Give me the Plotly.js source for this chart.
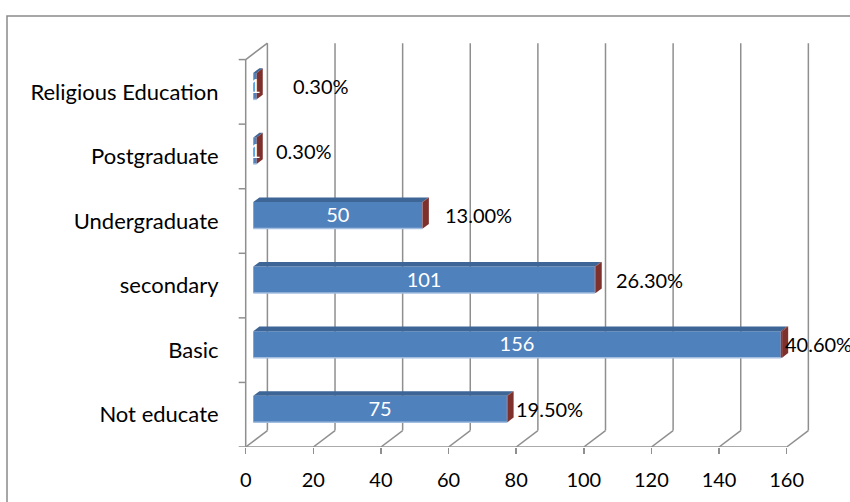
<!DOCTYPE html>
<html>
<head>
<meta charset="utf-8">
<script src="https://cdn.plot.ly/plotly-3.0.1.min.js"></script>
<style>
  html, body { margin: 0; padding: 0; background: #fff; }
  #chart { width: 850px; height: 502px; }
</style>
</head>
<body>
<div id="chart"></div>
<script>
// ---- data ----
const categories = ['Not educate', 'Basic', 'secondary', 'Undergraduate', 'Postgraduate', 'Religious Education'];
const counts = [75, 156, 101, 50, 1, 1];
const percents = [19.5, 40.6, 26.3, 13.0, 0.3, 0.3];
const xTicks = [0, 20, 40, 60, 80, 100, 120, 140, 160];

// ---- layout geometry (pixels) ----
const W = 850, Hgt = 502;
const L = 236, R = 814, T = 38, B = 447;
const X0PX = 245.7, KX = 3.381, KY = 64.57;
const xRange = [(L - X0PX) / KX, (R - X0PX) / KX];
const yRange = [-0.5, -0.5 + (B - T) / KY];
const DX = 21.7 / KX, DY = 16.4 / KY;   // depth of the 3D box in data units
const F1 = 0.35, F2 = 0.63;             // bar front / back depth fractions
const BH = 0.205;                        // half bar height (category units)
const labelNudge = [0, -5.5, 12, 14, 11, 28]; // px shifts of percent labels

const gridColor = '#8f8f8f';
const blueFront = '#4F81BD', blueTop = '#3D6596', blueEdge = '#A3BEE0';
const redFront = '#8C3836', redSide = '#7E302D', redTop = '#6E2826';
const fontFam = 'Lato, "Open Sans", sans-serif';

const traces = [];

// grid / box lines
const gx = [], gy = [];
function seg(x1, y1, x2, y2) { gx.push(x1, x2, null); gy.push(y1, y2, null); }
const yMin = -0.5, yMax = categories.length - 0.5;
xTicks.forEach(t => {
  seg(t + DX, yMin + DY, t + DX, yMax + DY);   // back wall verticals
  seg(t, yMin, t + DX, yMin + DY);             // floor diagonals
});
seg(0, yMin, xTicks[xTicks.length - 1], yMin); // front floor edge
seg(0, yMin, 0, yMax);                         // front left edge
seg(0, yMax, DX, yMax + DY);                   // left wall top
for (let k = 0; k <= categories.length; k++) {
  seg(-7 / KX, yMin + k, 0, yMin + k);         // category tick marks
}
traces.push({ type: 'scatter', mode: 'lines', x: gx, y: gy,
  line: { color: gridColor, width: 1.5 }, hoverinfo: 'skip', showlegend: false });

function poly(pts, color) {
  traces.push({ type: 'scatter', mode: 'lines', fill: 'toself', fillcolor: color,
    x: pts.map(p => p[0]).concat([pts[0][0]]),
    y: pts.map(p => p[1]).concat([pts[0][1]]),
    line: { width: 0, color: color }, hoverinfo: 'skip', showlegend: false });
}
function sh(x, y, f) { return [x + f * DX, y + f * DY]; }

categories.forEach((c, i) => {
  const v = counts[i];
  const e = v + percents[i] / 100;
  // front faces
  poly([sh(0, i - BH, F1), sh(v, i - BH, F1), sh(v, i + BH, F1), sh(0, i + BH, F1)], blueFront);
  poly([sh(v, i - BH, F1), sh(e, i - BH, F1), sh(e, i + BH, F1), sh(v, i + BH, F1)], redFront);
  // top faces
  poly([sh(0, i + BH, F1), sh(v, i + BH, F1), sh(v, i + BH, F2), sh(0, i + BH, F2)], blueTop);
  poly([sh(v, i + BH, F1), sh(e, i + BH, F1), sh(e, i + BH, F2), sh(v, i + BH, F2)], redTop);
  // side face
  poly([sh(e, i - BH, F1), sh(e, i + BH, F1), sh(e, i + BH, F2), sh(e, i - BH, F2)], redSide);
  // light lower edge of the front face
  const a = sh(0, i - BH, F1), b = sh(v, i - BH, F1);
  traces.push({ type: 'scatter', mode: 'lines', x: [a[0], b[0]], y: [a[1], b[1]],
    line: { color: blueEdge, width: 1.5 }, hoverinfo: 'skip', showlegend: false });
});

// count labels
traces.push({ type: 'scatter', mode: 'text',
  x: counts.map(v => v / 2 + F1 * DX),
  y: counts.map((v, i) => i + F1 * DY - 0.03),
  text: counts.map(String), textposition: 'middle center',
  textfont: { family: fontFam, size: 20, color: '#ffffff' },
  hoverinfo: 'skip', showlegend: false, cliponaxis: false });

// percent labels
const annotations = percents.map((p, i) => ({
  x: counts[i] + p / 100 + F2 * DX, y: i + F1 * DY, xref: 'x', yref: 'y',
  text: p.toFixed(2) + '%', showarrow: false, xanchor: 'left', yanchor: 'middle',
  xshift: labelNudge[i], font: { family: fontFam, size: 20, color: '#000' }
}));

const pw = R - L, ph = B - T;
const layout = {
  width: W, height: Hgt,
  margin: { l: L, r: W - R, t: T, b: Hgt - B, pad: 0 },
  paper_bgcolor: '#fff', plot_bgcolor: 'rgba(0,0,0,0)',
  showlegend: false,
  xaxis: { range: xRange, tickmode: 'array', tickvals: xTicks, ticktext: xTicks.map(String),
    ticks: 'outside', ticklen: 6, tickwidth: 1.5, tickcolor: gridColor, ticklabelstandoff: 9,
    showgrid: false, zeroline: false, showline: false, automargin: false, fixedrange: true,
    tickfont: { family: fontFam, size: 20, color: '#000' } },
  yaxis: { range: yRange, tickmode: 'array', tickvals: categories.map((c, i) => i), ticktext: categories,
    ticks: 'outside', ticklen: 12, tickcolor: 'rgba(0,0,0,0)',
    showgrid: false, zeroline: false, showline: false, automargin: false, fixedrange: true,
    tickfont: { family: fontFam, size: 22, color: '#000' } },
  annotations: annotations,
  shapes: [{ type: 'rect', xref: 'paper', yref: 'paper',
    x0: (7 - L) / pw, x1: (870 - L) / pw, y0: (B - 520) / ph, y1: (B - 16) / ph,
    line: { color: '#8a8a8a', width: 1.5 }, fillcolor: 'rgba(0,0,0,0)' }]
};

Plotly.newPlot('chart', traces, layout, { staticPlot: true, displayModeBar: false });
</script>
</body>
</html>
